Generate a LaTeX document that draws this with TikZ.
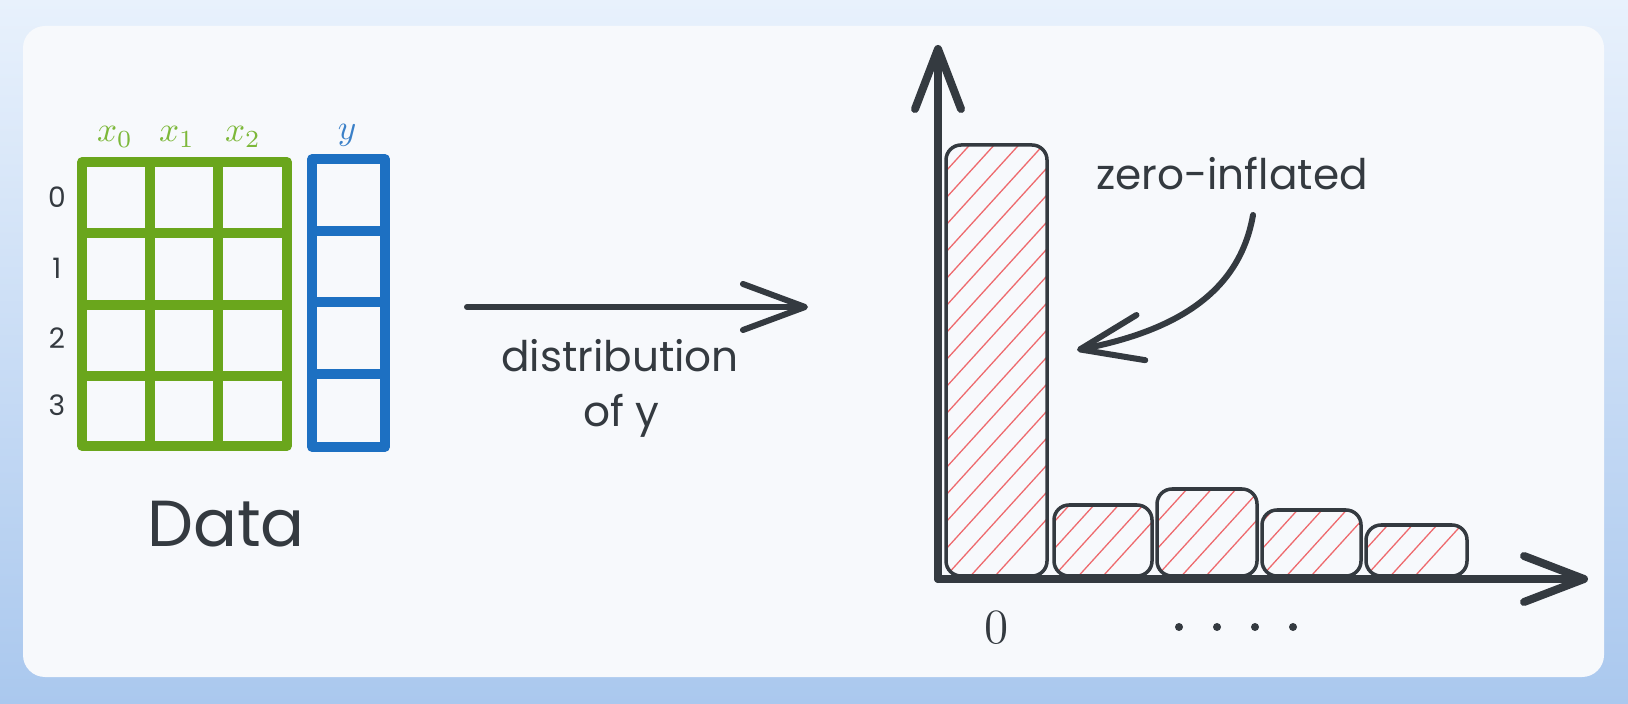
\documentclass[tikz,border=0pt]{standalone}
\usepackage{fontspec}
\usepackage{amsmath}
\usetikzlibrary{arrows.meta,positioning}
\newfontfamily\handfont{Poppins}
\definecolor{bgtop}{HTML}{E8F1FC}
\definecolor{bgbot}{HTML}{AAC8EE}
\definecolor{cardwhite}{HTML}{F7F9FC}
\definecolor{inkgray}{HTML}{343A40}
\definecolor{gridgreen}{HTML}{6AA61C}
\definecolor{labgreen}{HTML}{7DB83A}
\definecolor{gridblue}{HTML}{1D70C2}
\definecolor{labblue}{HTML}{3A80C8}
\definecolor{hatchred}{HTML}{EE6A6E}

\begin{document}
\begin{tikzpicture}[x=0.01cm,y=-0.01cm]
\tikzstyle{handsmall} = [font=\handfont\fontsize{8}{9}\selectfont, text=inkgray, inner sep=0pt];%
\tikzstyle{handmid} = [font=\handfont\fontsize{12}{14}\selectfont, text=inkgray, inner sep=0pt];%
\tikzstyle{handbig} = [font=\handfont\fontsize{18.5}{21}\selectfont, text=inkgray, inner sep=0pt];%
\tikzstyle{mathlbl} = [font=\fontsize{10}{12}\selectfont, inner sep=0pt];%
\tikzstyle{greengrid} = [draw=gridgreen, line width=0.095cm, line cap=round, line join=round];%
\tikzstyle{bluegrid} = [draw=gridblue, line width=0.095cm, line cap=round, line join=round];%
\tikzstyle{bar} = [draw=inkgray, line width=0.035cm, rounded corners=0.15cm];%
\tikzstyle{hatch} = [draw=hatchred, line width=0.013cm];%
\tikzstyle{sketcharrow} = [draw=inkgray, line width=0.06cm, line cap=round,
  -{Straight Barb[length=0.62cm,width=0.46cm,round]}];%
\tikzstyle{axisarrow} = [draw=inkgray, line width=0.08cm, line cap=round,
  -{Straight Barb[length=0.6cm,width=0.46cm,round]}];%

\useasboundingbox (0,0) rectangle (1628,704);
\shade[top color=bgtop, bottom color=bgbot] (0,0) rectangle (1628,704);
\fill[cardwhite, rounded corners=0.22cm] (23,26) rectangle (1604,677);

% data table
\draw[greengrid] (82,162) rectangle (287,446);
\foreach \gx in {150,218} \draw[greengrid] (\gx,162) -- (\gx,446);
\foreach \gy in {233,305,376} \draw[greengrid] (82,\gy) -- (287,\gy);
\draw[bluegrid] (312,159) rectangle (385,447);
\foreach \gy in {231,302,374} \draw[bluegrid] (312,\gy) -- (385,\gy);

\foreach \i/\ry in {0/197,1/268,2/338,3/405}
  \node at (57,\ry) [handsmall] (r\i) {\i};

\node at (115,137) [mathlbl, text=labgreen] (cx0) {$x_0$};
\node at (177,137) [mathlbl, text=labgreen] (cx1) {$x_1$};
\node at (243,137) [mathlbl, text=labgreen] (cx2) {$x_2$};
\node at (347,135) [mathlbl, text=labblue] (cy) {$y$};

\node at (226,524) [handbig] (data) {Data};

% middle arrow
\coordinate (arrL) at (467,307);
\coordinate (arrR) at (808,307);
\path (arrL) edge[sketcharrow] (arrR);
\node at (620,372) [handmid, anchor=base] (dist1) {distribution};
\node at (621,427) [handmid, anchor=base] (dist2) {of y};

% histogram
\foreach \l/\r/\t in {946/1047/145, 1054/1152/505, 1157/1257/489, 1262/1361/510, 1366/1467/525} {
  \begin{scope}
    \clip[rounded corners=0.15cm] (\l,576) rectangle (\r,\t);
    \foreach \k in {0,...,22}
      \draw[hatch] (\l,630-27*\k) -- ++(150,-165);
  \end{scope}
  \draw[bar] (\l,576) rectangle (\r,\t);
}

\coordinate (O) at (938,579);
\coordinate (ytop) at (938,45);
\coordinate (xend) at (1588,579);
\path (O) edge[axisarrow] (ytop);
\path (O) edge[axisarrow] (xend);

\node at (1232,190) [handmid, anchor=base] (zinf) {zero-inflated};
\coordinate (zstart) at (1253,215);
\coordinate (ztip) at (1077,350);
\draw[sketcharrow] (zstart) .. controls (1240,290) and (1180,330) .. (ztip);

\node at (997,628) [font=\fontsize{14}{16}\selectfont, text=inkgray, inner sep=0pt] (zero) {0};
\foreach \dx in {1179,1217,1255,1293} \fill[inkgray] (\dx,627) circle (0.04cm);

\end{tikzpicture}
\end{document}
